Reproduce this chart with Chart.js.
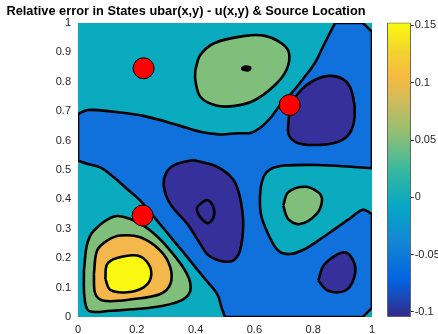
<!DOCTYPE html>
<html>
<head>
<meta charset="utf-8">
<script src="https://cdn.jsdelivr.net/npm/chart.js@4.4.1/dist/chart.umd.min.js"></script>
<style>
html, body { margin: 0; padding: 0; background: #fff; }
#wrap { position: relative; width: 438px; height: 334px; overflow: hidden; }
#plot { position: absolute; left: 0; top: 0; width: 375px; height: 334px; }
#cbar { position: absolute; left: 380px; top: 0; width: 58px; height: 334px; }
</style>
</head>
<body>
<div id="wrap">
  <canvas id="plot" width="375" height="334"></canvas>
  <canvas id="cbar" width="58" height="334"></canvas>
</div>
<script>
// --- text and ticks ---
const titleText = 'Relative error in States ubar(x,y) - u(x,y) & Source Location';
const xTicks = [0, 0.2, 0.4, 0.6, 0.8, 1];
const xTickLabels = ['0', '0.2', '0.4', '0.6', '0.8', '1'];
const yTicks = [0, 0.1, 0.2, 0.3, 0.4, 0.5, 0.6, 0.7, 0.8, 0.9, 1];
const yTickLabels = ['0', '0.1', '0.2', '0.3', '0.4', '0.5', '0.6', '0.7', '0.8', '0.9', '1'];

// --- contour levels and their fill colours (parula) ---
const contourLevels = [-0.1, -0.05, 0, 0.05, 0.1, 0.15];
const levelFill = ['#36309a', '#1171dc', '#0aabbf', '#7fbf7b', '#f3b74c', '#f8f810'];

// --- colorbar ---
const cbarRange = [-0.1041, 0.1523];
const cbarTicks = [-0.1, -0.05, 0, 0.05, 0.1, 0.15];
const cbarTickLabels = ['-0.1', '-0.05', '0', '0.05', '0.1', '0.15'];
const cbarStopPos = [0, 0.125, 0.25, 0.375, 0.5, 0.625, 0.75, 0.82, 0.9, 1];
const cbarStopColor = ['#352a87', '#0363e1', '#1485d4', '#06a7c6', '#38b99e', '#92bf73', '#d9ba56', '#f7bb3f', '#f2d22e', '#f9fb0e'];

// --- contour outlines, [x, y] ---
// band -0.05..0 (blue), right-middle 0..0.05 pocket traced as a hole
const blueBand = [
  [0, 0.690], [0.033, 0.704], [0.122, 0.698], [0.223, 0.684], [0.348, 0.650], [0.416, 0.630],
  [0.480, 0.621], [0.545, 0.625], [0.590, 0.627], [0.624, 0.647], [0.658, 0.681], [0.692, 0.727],
  [0.726, 0.761], [0.771, 0.817], [0.805, 0.863], [0.839, 0.931], [0.862, 0.976],
  [0.875, 1], [0.875, 1], [0.969, 1], [0.969, 1], [1, 0.970], [1, 0.970], [1, 0.506], [1, 0.506],
  [0.930, 0.511], [0.817, 0.517], [0.703, 0.515], [0.655, 0.503], [0.632, 0.478], [0.620, 0.425],
  [0.622, 0.350], [0.647, 0.282], [0.681, 0.226], [0.721, 0.214], [0.771, 0.231], [0.817, 0.260],
  [0.873, 0.299], [0.930, 0.339], [0.969, 0.365], [1, 0.350], [1, 0.350],
  [1, 0.031], [1, 0.031], [0.969, 0], [0.969, 0], [0.5, 0], [0.5, 0],
  [0.488, 0.033], [0.474, 0.077], [0.427, 0.135], [0.382, 0.191], [0.325, 0.260], [0.269, 0.328],
  [0.212, 0.396], [0.167, 0.435], [0.122, 0.475], [0.076, 0.509], [0.033, 0.520],
  [0, 0.532], [0, 0.532], [0, 0.690]
];
// band below -0.05 (dark blue)
const darkUpperRight = [
  [0.715, 0.659], [0.722, 0.705], [0.749, 0.761], [0.805, 0.806], [0.862, 0.820], [0.913, 0.800],
  [0.936, 0.749], [0.941, 0.681], [0.924, 0.625], [0.885, 0.596], [0.817, 0.585], [0.749, 0.591],
  [0.717, 0.619], [0.715, 0.659]
];
const darkCentre = [
  [0.393, 0.534], [0.473, 0.511], [0.529, 0.466], [0.551, 0.407], [0.562, 0.316], [0.551, 0.226],
  [0.528, 0.192], [0.500, 0.188], [0.470, 0.195], [0.439, 0.214], [0.416, 0.248], [0.372, 0.316],
  [0.314, 0.384], [0.292, 0.443], [0.300, 0.490], [0.330, 0.518], [0.393, 0.534]
];
const darkInner = [
  [0.405, 0.375], [0.439, 0.398], [0.461, 0.373], [0.461, 0.339], [0.441, 0.319], [0.416, 0.339],
  [0.405, 0.361], [0.405, 0.375]
];
const darkLowerRight = [
  [0.817, 0.124], [0.839, 0.180], [0.907, 0.220], [0.941, 0.180], [0.936, 0.124], [0.907, 0.089],
  [0.851, 0.089], [0.817, 0.124]
];
// band 0.05..0.1 (green)
const greenTop = [
  [0.399, 0.840], [0.416, 0.891], [0.465, 0.932], [0.568, 0.956], [0.636, 0.956], [0.692, 0.931],
  [0.718, 0.897], [0.709, 0.840], [0.670, 0.789], [0.602, 0.738], [0.534, 0.718], [0.470, 0.719],
  [0.416, 0.749], [0.399, 0.806], [0.399, 0.840]
];
const greenRight = [
  [0.698, 0.379], [0.715, 0.424], [0.771, 0.443], [0.817, 0.424], [0.830, 0.396], [0.811, 0.350],
  [0.755, 0.316], [0.715, 0.333], [0.698, 0.379]
];
const greenLowerLeft = [
  [0.020, 0.157], [0.031, 0.248], [0.054, 0.294], [0.122, 0.342], [0.178, 0.333], [0.246, 0.294],
  [0.314, 0.226], [0.371, 0.146], [0.382, 0.089], [0.348, 0.055], [0.257, 0.033], [0.110, 0.021],
  [0.037, 0.021], [0.022, 0.067], [0.020, 0.157]
];
// band 0.1..0.15 (orange) and above 0.15 (yellow)
const orangeLowerLeft = [
  [0.054, 0.146], [0.065, 0.226], [0.099, 0.260], [0.144, 0.277], [0.212, 0.271], [0.280, 0.226],
  [0.314, 0.169], [0.314, 0.112], [0.280, 0.078], [0.190, 0.061], [0.088, 0.055], [0.059, 0.078],
  [0.054, 0.146]
];
const yellowCore = [
  [0.093, 0.129], [0.099, 0.180], [0.133, 0.201], [0.201, 0.209], [0.240, 0.180], [0.248, 0.135],
  [0.223, 0.101], [0.167, 0.084], [0.110, 0.092], [0.093, 0.129]
];
const peakTop = [
  [0.556, 0.845], [0.566, 0.851], [0.582, 0.850], [0.586, 0.845], [0.580, 0.839], [0.566, 0.840],
  [0.556, 0.845]
];

// --- source locations ---
const sourceX = [0.223, 0.720, 0.220];
const sourceY = [0.846, 0.721, 0.345];

const fontFamily = '"Liberation Sans", Arial, Helvetica, sans-serif';
const tickColor = '#262626';

// painter's order, bottom first
const layers = [
  { pts: blueBand, fill: levelFill[1] },
  { pts: darkUpperRight, fill: levelFill[0] },
  { pts: darkCentre, fill: levelFill[0] },
  { pts: darkLowerRight, fill: levelFill[0] },
  { pts: darkInner, fill: levelFill[0] },
  { pts: greenTop, fill: levelFill[3] },
  { pts: greenRight, fill: levelFill[3] },
  { pts: greenLowerLeft, fill: levelFill[3] },
  { pts: orangeLowerLeft, fill: levelFill[4] },
  { pts: yellowCore, fill: levelFill[5] },
  { pts: peakTop, fill: '#000000' }
];

let datasets = layers.map((l, i) => ({
  data: l.pts.map(p => ({ x: p[0], y: p[1] })),
  showLine: true,
  fill: 'shape',
  backgroundColor: l.fill,
  borderColor: '#000000',
  borderWidth: 2.6,
  tension: 0.35,
  pointRadius: 0,
  order: layers.length + 1 - i
}));

datasets.push({
  data: sourceX.map((x, i) => ({ x: x, y: sourceY[i] })),
  showLine: false,
  pointRadius: 10.5,
  pointBackgroundColor: '#ff0000',
  pointBorderColor: '#000000',
  pointBorderWidth: 1,
  order: 0
});

// zero-level background colour inside the axes
const backdrop = {
  id: 'backdrop',
  beforeDatasetsDraw(chart) {
    const a = chart.chartArea;
    const ctx = chart.ctx;
    ctx.save();
    ctx.fillStyle = levelFill[2];
    ctx.fillRect(a.left, a.top, a.right - a.left, a.bottom - a.top);
    ctx.restore();
  }
};

new Chart(document.getElementById('plot'), {
  type: 'scatter',
  data: { datasets: datasets },
  plugins: [backdrop],
  options: {
    responsive: false,
    animation: false,
    events: [],
    layout: { autoPadding: false, padding: { left: 0, right: 3, top: 0, bottom: 0 } },
    plugins: {
      legend: { display: false },
      tooltip: { enabled: false },
      title: {
        display: true,
        text: titleText,
        color: '#000000',
        font: { family: fontFamily, size: 12.8, weight: 'bold' },
        padding: { top: 4, bottom: 3.6 }
      }
    },
    scales: {
      x: {
        type: 'linear', min: 0, max: 1,
        grid: { display: false, drawTicks: false },
        border: { display: false },
        afterBuildTicks: s => { s.ticks = xTicks.map(v => ({ value: v })); },
        ticks: {
          callback: (v, i) => xTickLabels[i],
          padding: 6, maxRotation: 0, autoSkip: false,
          color: tickColor, font: { family: fontFamily, size: 11 }
        },
        afterFit: s => { s.height = 17; s.paddingLeft = 0; s.paddingRight = 0; }
      },
      y: {
        type: 'linear', min: 0, max: 1,
        grid: { display: false, drawTicks: false },
        border: { display: false },
        afterBuildTicks: s => { s.ticks = yTicks.map(v => ({ value: v })); },
        ticks: {
          callback: (v, i) => yTickLabels[i],
          padding: 7, autoSkip: false,
          color: tickColor, font: { family: fontFamily, size: 11 }
        },
        afterFit: s => { s.width = 78; s.paddingTop = 0; s.paddingBottom = 0; }
      }
    }
  }
});

// --- colorbar ---
function cbarGradient(context) {
  const chart = context.chart;
  if (!chart.chartArea) return levelFill[2];
  const y = chart.scales.y;
  const g = chart.ctx.createLinearGradient(0, y.getPixelForValue(cbarRange[0]), 0, y.getPixelForValue(cbarRange[1]));
  cbarStopPos.forEach((p, i) => g.addColorStop(p, cbarStopColor[i]));
  return g;
}

new Chart(document.getElementById('cbar'), {
  type: 'bar',
  data: {
    labels: [''],
    datasets: [{
      data: [cbarRange],
      backgroundColor: cbarGradient,
      borderColor: '#262626',
      borderWidth: 1,
      borderSkipped: false,
      barPercentage: 1,
      categoryPercentage: 1
    }]
  },
  options: {
    responsive: false,
    animation: false,
    events: [],
    layout: { autoPadding: false, padding: { left: 7.3, right: 0, top: 22.7, bottom: 17.3 } },
    plugins: { legend: { display: false }, tooltip: { enabled: false } },
    scales: {
      x: { display: false },
      y: {
        position: 'right',
        min: cbarRange[0], max: cbarRange[1],
        border: { display: false },
        grid: { drawOnChartArea: false, drawTicks: true, tickLength: 3, color: '#262626' },
        afterBuildTicks: s => { s.ticks = cbarTicks.map(v => ({ value: v })); },
        ticks: {
          callback: (v, i) => cbarTickLabels[i],
          padding: 1, autoSkip: false,
          color: tickColor, font: { family: fontFamily, size: 11 }
        },
        afterFit: s => { s.width = 27.3; s.paddingTop = 0; s.paddingBottom = 0; }
      }
    }
  }
});
</script>
</body>
</html>
